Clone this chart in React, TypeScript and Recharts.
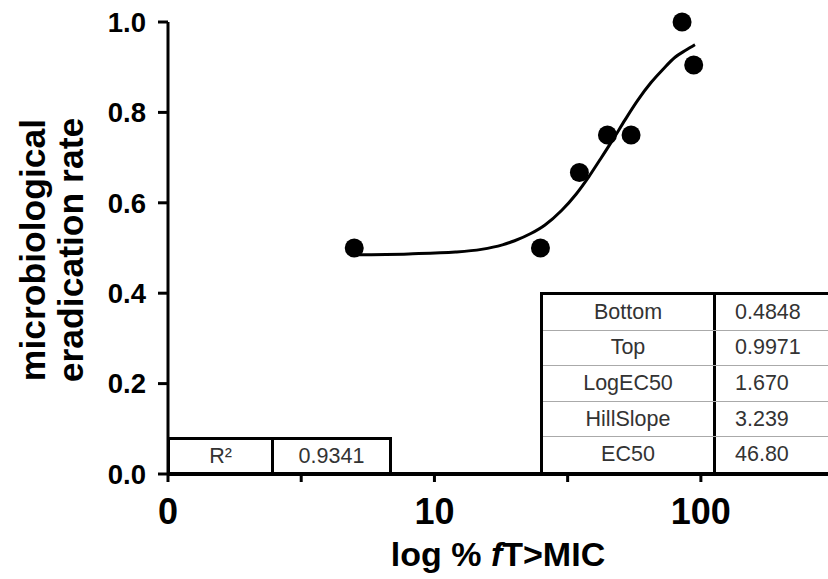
import React from "react";
import { ComposedChart, Line, Scatter, XAxis, YAxis } from "recharts";

// observed eradication rates
const obsX = [5, 25, 35, 44.6, 54.7, 85, 94];
const obsY = [0.5, 0.5, 0.667, 0.75, 0.75, 1.0, 0.905];

// fitted sigmoid, values
const fitX = [5, 8, 12, 15, 18, 20, 23, 26, 30, 34, 38, 42, 47, 52, 58, 65, 72, 80, 88, 95];
const fitY = [
  0.485, 0.487, 0.491, 0.497, 0.507, 0.516, 0.532, 0.551, 0.583, 0.619, 0.658, 0.697, 0.742, 0.784,
  0.827, 0.866, 0.895, 0.922, 0.938, 0.95,
];

const xTicks = [1, 3.162, 10, 31.62, 100];
const xTickLabels: Record<number, string> = { 1: "0", 10: "10", 100: "100" };
const yTicks = [0, 0.2, 0.4, 0.6, 0.8, 1.0];

const paramNames = ["Bottom", "Top", "LogEC50", "HillSlope", "EC50"];
const paramValues = ["0.4848", "0.9971", "1.670", "3.239", "46.80"];
const r2Label = "R²";
const r2Value = "0.9341";

const points = obsX.map((x, i) => ({ x, y: obsY[i] }));
const curve = fitX.map((x, i) => ({ x, y: fitY[i] }));

const FONT = '"Liberation Sans", Arial, sans-serif';

function XTitle(props: any) {
  const { viewBox } = props;
  if (!viewBox) return null;
  return (
    <text x={viewBox.x + viewBox.width / 2} y={566} textAnchor="middle" fontSize={34} fontWeight="bold" fill="#000">
      log %{" "}
      <tspan fontStyle="italic">f</tspan>
      T&gt;MIC
    </text>
  );
}

function YTitle(props: any) {
  const { viewBox } = props;
  if (!viewBox) return null;
  const cy = viewBox.y + viewBox.height / 2 + 2;
  return (
    <g fontSize={35.5} fontWeight="bold" fill="#000">
      <text transform={`translate(45, ${cy}) rotate(-90)`} textAnchor="middle">
        microbiological
      </text>
      <text transform={`translate(83, ${cy}) rotate(-90)`} textAnchor="middle">
        eradication rate
      </text>
    </g>
  );
}

const Dot = (p: any) => <circle cx={p.cx} cy={p.cy} r={9.5} fill="#000" />;

const cellText: React.CSSProperties = {
  fontSize: 21.5,
  color: "#333",
  display: "flex",
  alignItems: "center",
};

export default function App() {
  return (
    <div
      style={{
        position: "absolute",
        left: 0,
        top: 0,
        width: 828,
        height: 579,
        overflow: "hidden",
        background: "#fff",
        fontFamily: FONT,
      }}
    >
      <ComposedChart width={828} height={579} margin={{ top: 22, right: 0, bottom: 0, left: 0 }}>
        <XAxis
          dataKey="x"
          type="number"
          scale="log"
          domain={[1, 300]}
          allowDataOverflow
          ticks={xTicks}
          tickFormatter={(v: number) => xTickLabels[v] ?? ""}
          height={105}
          tickSize={8}
          tickMargin={16}
          tick={{ fontSize: 36, fontWeight: "bold", fill: "#000" }}
          axisLine={{ stroke: "#000", strokeWidth: 4 }}
          tickLine={{ stroke: "#000", strokeWidth: 3 }}
          label={<XTitle />}
        />
        <YAxis
          dataKey="y"
          type="number"
          domain={[0, 1]}
          ticks={yTicks}
          tickFormatter={(v: number) => v.toFixed(1)}
          width={168}
          tickSize={10}
          tickMargin={12}
          tick={{ fontSize: 27.5, fontWeight: "bold", fill: "#000" }}
          axisLine={{ stroke: "#000", strokeWidth: 3 }}
          tickLine={{ stroke: "#000", strokeWidth: 3 }}
          label={<YTitle />}
        />
        <Line
          data={curve}
          dataKey="y"
          type="monotone"
          stroke="#000"
          strokeWidth={3}
          dot={false}
          activeDot={false}
          isAnimationActive={false}
        />
        <Scatter data={points} dataKey="y" fill="#000" shape={Dot} isAnimationActive={false} />
      </ComposedChart>

      {/* R² box */}
      <div
        style={{
          position: "absolute",
          left: 167,
          top: 437,
          width: 225,
          height: 38,
          border: "3px solid #000",
          boxSizing: "border-box",
          display: "flex",
          background: "#fff",
        }}
      >
        <div style={{ ...cellText, width: 101, borderRight: "3px solid #000", justifyContent: "center" }}>{r2Label}</div>
        <div style={{ ...cellText, flex: 1, justifyContent: "center" }}>{r2Value}</div>
      </div>

      {/* fit parameters */}
      <div
        style={{
          position: "absolute",
          left: 540,
          top: 292,
          width: 300,
          height: 183,
          border: "3px solid #000",
          boxSizing: "border-box",
          display: "flex",
          flexDirection: "column",
          background: "#fff",
        }}
      >
        {paramNames.map((name, i) => (
          <div
            key={name}
            style={{
              display: "flex",
              flex: 1,
              borderTop: i === 0 ? "none" : "1px solid #aaa",
            }}
          >
            <div style={{ ...cellText, width: 170, borderRight: "3px solid #000", justifyContent: "center" }}>{name}</div>
            <div style={{ ...cellText, flex: 1, paddingLeft: 19 }}>{paramValues[i]}</div>
          </div>
        ))}
      </div>
    </div>
  );
}
